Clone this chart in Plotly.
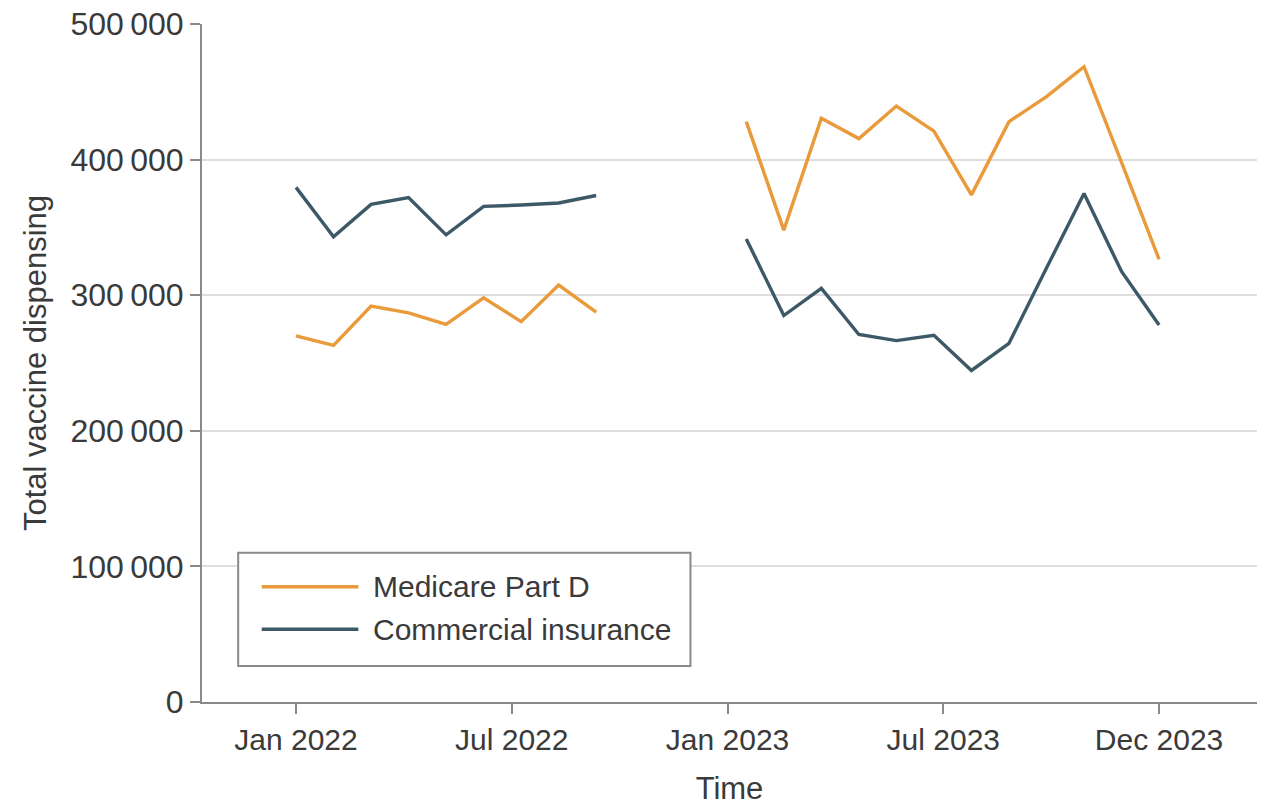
import plotly.graph_objects as go

# Months (Jan 2022 .. Dec 2023); Oct-Dec 2022 have no data
months = ["2022-01", "2022-02", "2022-03", "2022-04", "2022-05", "2022-06",
          "2022-07", "2022-08", "2022-09", "2022-10", "2022-11", "2022-12",
          "2023-01", "2023-02", "2023-03", "2023-04", "2023-05", "2023-06",
          "2023-07", "2023-08", "2023-09", "2023-10", "2023-11", "2023-12"]

medicare = [270000, 263000, 292000, 287000, 278500, 298000, 280500, 307500, 287500,
            None, None, None,
            428000, 348000, 430500, 415500, 439500, 421000, 374000, 428000, 446500,
            468500, 398000, 326500]

commercial = [379500, 343000, 367000, 372000, 344500, 365500, 366500, 368000, 373500,
              None, None, None,
              341500, 285000, 305000, 271000, 266500, 270500, 244500, 264500, 320000,
              375000, 317500, 278000]

series_names = ["Medicare Part D", "Commercial insurance"]
x_tick_labels = ["Jan 2022", "Jul 2022", "Jan 2023", "Jul 2023", "Dec 2023"]
y_tick_vals = [0, 100000, 200000, 300000, 400000, 500000]
y_tick_text = ["0", "100\u2009000", "200\u2009000", "300\u2009000", "400\u2009000", "500\u2009000"]

x_idx = list(range(len(months)))
n_last = len(months) - 1
x_tick_vals = [n_last * i / (len(x_tick_labels) - 1) for i in range(len(x_tick_labels))]

ORANGE = "#E99A3B"
SLATE = "#3D5866"
TEXT = "#3a3a3a"
AXIS = "#8a8a8a"
FONT = "Liberation Sans, Arial, sans-serif"
colors = [ORANGE, SLATE]

fig = go.Figure()
for name, vals, col in zip(series_names, [medicare, commercial], colors):
    fig.add_trace(go.Scatter(x=x_idx, y=vals, mode="lines", name=name,
                             line=dict(color=col, width=3.4), connectgaps=False,
                             showlegend=False))

# Manual legend box (paper coordinates)
fig.add_shape(type="rect", xref="paper", yref="paper",
              x0=0.0343, x1=0.4630, y0=0.0531, y1=0.2202,
              line=dict(color=AXIS, width=2), fillcolor="white", layer="above")
legend_y = [0.1700, 0.1072]
for name, col, ly in zip(series_names, colors, legend_y):
    fig.add_shape(type="line", xref="paper", yref="paper",
                  x0=0.0566, x1=0.1482, y0=ly, y1=ly,
                  line=dict(color=col, width=3.4), layer="above")
    fig.add_annotation(text=name, xref="paper", yref="paper", x=0.1600, y=ly,
                       xanchor="left", yanchor="middle", showarrow=False,
                       font=dict(family=FONT, size=30, color=TEXT))

fig.update_layout(
    width=1267, height=811,
    margin=dict(l=202, r=10, t=24, b=109),
    paper_bgcolor="white", plot_bgcolor="white",
    font=dict(family=FONT, size=30, color=TEXT),
    showlegend=False,
    xaxis=dict(
        range=[-2.505, 25.61], showgrid=False, zeroline=False, automargin=False,
        tickmode="array", tickvals=x_tick_vals, ticktext=x_tick_labels,
        ticks="outside", ticklen=10, tickwidth=2, tickcolor=AXIS,
        showline=True, linecolor=AXIS, linewidth=2,
        tickfont=dict(family=FONT, size=30, color=TEXT),
        title=dict(text="Time", font=dict(family=FONT, size=31, color=TEXT), standoff=22),
    ),
    yaxis=dict(
        range=[0, 500000], showgrid=True, gridcolor="#dedede", gridwidth=2, zeroline=False,
        automargin=False,
        tickmode="array", tickvals=y_tick_vals, ticktext=y_tick_text,
        ticks="outside", ticklen=10, tickwidth=2, tickcolor=AXIS,
        showline=True, linecolor=AXIS, linewidth=2,
        tickfont=dict(family=FONT, size=32, color=TEXT),
        title=dict(text="Total vaccine dispensing", font=dict(family=FONT, size=31, color=TEXT)),
    ),
)

# remove the browser's default 8px body margin so the figure sits at the page origin
fig.write_html("out.html", config={"displayModeBar": False},
               post_script="document.body.style.margin='0';")
